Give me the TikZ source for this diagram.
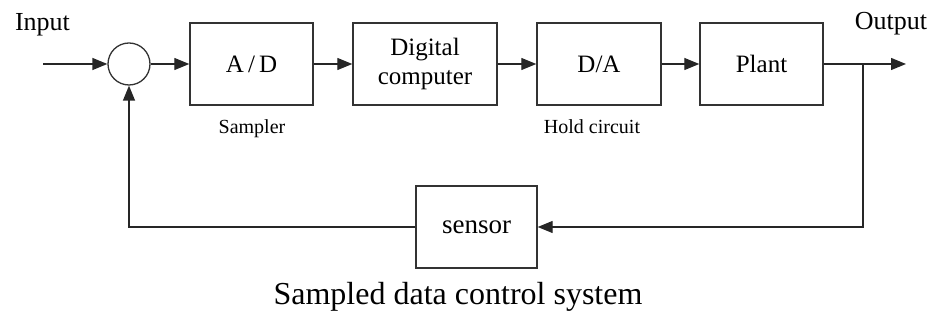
\documentclass[tikz,border=0pt]{standalone}
\usepackage{fontspec}
\setmainfont{Liberation Serif}
\usetikzlibrary{arrows.meta}

\begin{document}
\begin{tikzpicture}[
    x=1pt, y=1pt,
    blocco/.style={draw=black!80, line width=1.4pt, minimum height=82pt, inner sep=0pt, align=center, font=\fontsize{25}{29}\selectfont},
    somma/.style={circle, draw=black!80, line width=1.3pt, minimum size=42pt, inner sep=0pt},
    freccia/.style={draw=black!85, line width=1.3pt, -{Triangle[length=15pt, width=12pt]}},
    etichetta/.style={anchor=base, font=\fontsize{20}{24}\selectfont},
    segnale/.style={anchor=base, font=\fontsize{26}{30}\selectfont}
]
    \useasboundingbox (0,0) rectangle (934,326);

    % 1. Blocchi della catena diretta
    \node[somma] (S) at (129,262) {};
    \node[blocco, minimum width=123pt] (AD) at (251.5,262) {A\,/\,D};
    \node[blocco, minimum width=144pt] (DC) at (425,262) {Digital\\computer};
    \node[blocco, minimum width=124pt] (DA) at (599,262) {D/A};
    \node[blocco, minimum width=123pt] (P) at (761.5,262) {Plant};

    % 2. Blocco di retroazione
    \node[blocco, minimum width=121pt, font=\fontsize{27}{30}\selectfont] (SENS) at (476.5,99) {sensor};

    % punti liberi di ingresso, uscita e diramazione
    \coordinate (IN) at (43,262);
    \coordinate (OUT) at (906,262);
    \coordinate (RAMO) at (863,262);

    % 3. Collegamenti
    \draw[freccia] (IN) -- (S);
    \draw[freccia] (S) -- (AD);
    \draw[freccia] (AD) -- (DC);
    \draw[freccia] (DC) -- (DA);
    \draw[freccia] (DA) -- (P);
    \draw[freccia] (P) -- (OUT);
    \draw[freccia] (RAMO) |- (SENS.east);
    \draw[freccia] (SENS.west) -| (S.south);

    % 4. Etichette
    \node[segnale] (lab_in) at (42.5,295) {Input};
    \node[segnale] (lab_out) at (891,296) {Output};
    \node[etichetta] (lab_ad) at (252,192) {Sampler};
    \node[etichetta] (lab_da) at (592,192) {Hold circuit};
    \node[anchor=base, font=\fontsize{32}{36}\selectfont] (titolo) at (458,21) {Sampled data control system};

\end{tikzpicture}
\end{document}
